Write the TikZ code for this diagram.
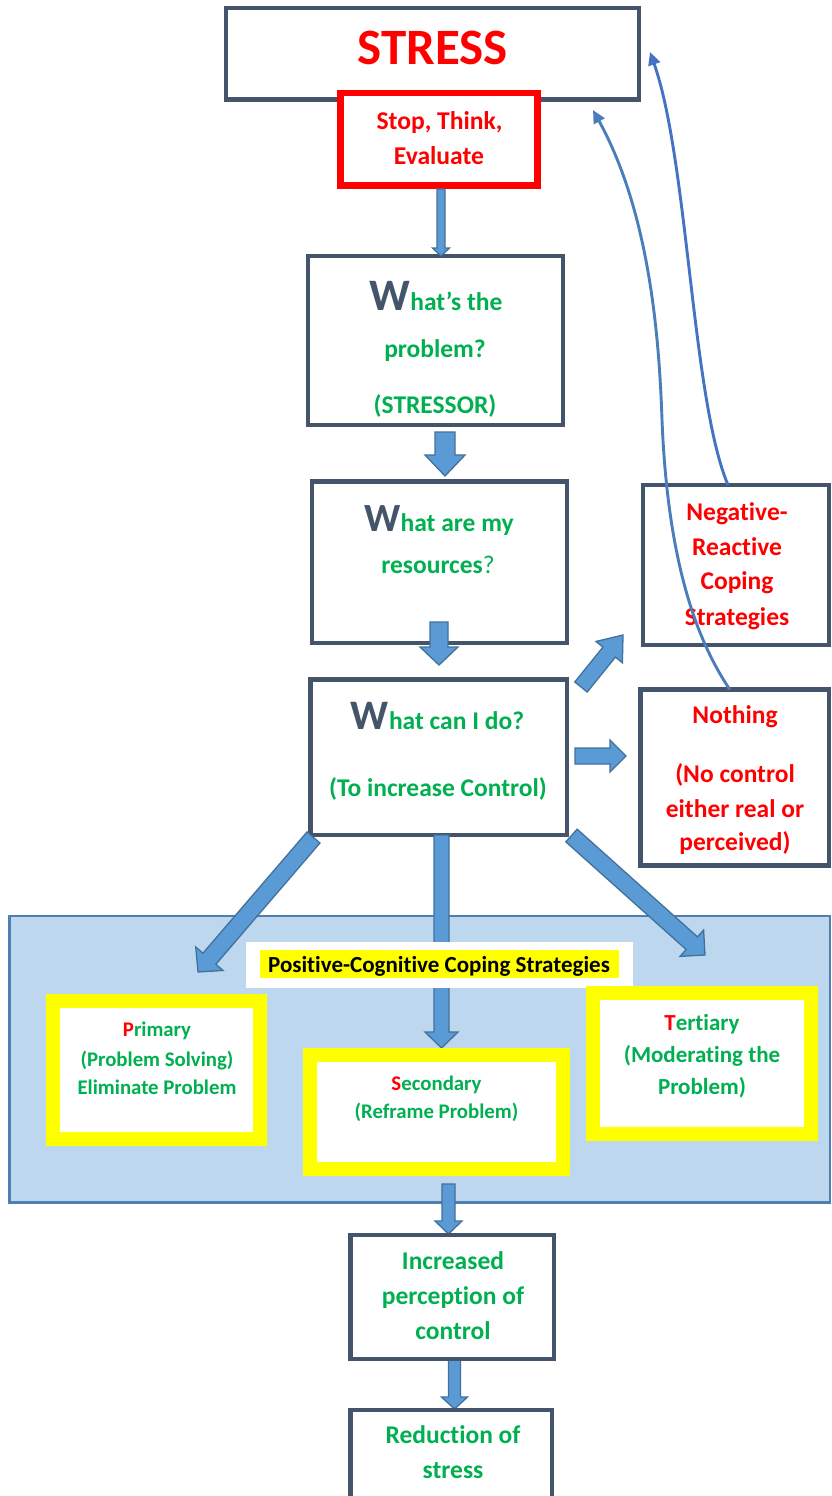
\documentclass[tikz,border=0pt]{standalone}
\usepackage{fontspec}
\setmainfont{Carlito}[Ligatures=NoCommon]
\usetikzlibrary{calc,arrows.meta}
\definecolor{boxline}{HTML}{44546A}
\definecolor{wgreen}{HTML}{00B050}
\definecolor{wred}{HTML}{FF0000}
\definecolor{arrfill}{HTML}{5B9BD5}
\definecolor{arrline}{HTML}{41719C}
\definecolor{bgblue}{HTML}{BDD7EE}
\definecolor{bgline}{HTML}{4F7FB0}
\definecolor{curveA}{HTML}{4A7EBB}
\definecolor{curveB}{HTML}{4472C4}
\definecolor{hlyellow}{HTML}{FFFF00}
\newcommand{\fs}[1]{\fontsize{#1}{#1}\selectfont}
\newcommand{\bigW}[1]{{\color{boxline}\fs{#1}W}}
% block arrow: start, tip, shaft half width, head half width, head length
\newcommand{\blockarr}[5]{%
  \coordinate (ba-c) at ($(#2)!#5!(#1)$);
  \draw[blockarrow] ($(#1)!#3!90:(#2)$) -- ($(ba-c)!#3!-90:(#1)$) -- ($(ba-c)!#4!-90:(#1)$) -- (#2)
    -- ($(ba-c)!#4!90:(#1)$) -- ($(ba-c)!#3!90:(#1)$) -- ($(#1)!#3!-90:(#2)$) -- cycle;}
\tikzset{
  box/.style={draw=boxline, line width=4.5pt, fill=white, inner sep=0pt, outer sep=0pt},
  redbox/.style={draw=wred, line width=6.5pt, fill=white, inner sep=0pt, outer sep=0pt},
  ybox/.style={draw=hlyellow, line width=14pt, fill=white, inner sep=0pt, outer sep=0pt},
  txt/.style={anchor=base, inner sep=0pt, outer sep=0pt},
  gtxt/.style={txt, text=wgreen},
  rtxt/.style={txt, text=wred},
  blockarrow/.style={draw=arrline, fill=arrfill, line width=1.3pt, line join=miter},
  curvearrow/.style={line width=2.9pt, -{Triangle[length=13pt,width=12pt]}},
}
\begin{document}
\begin{tikzpicture}[x=1pt,y=-1pt]
\clip (0,0) rectangle (831,1496);
\fill[white] (0,0) rectangle (831,1496);

% background panel
\node[draw=bgline, fill=bgblue, line width=2.2pt, minimum width=820.5pt, minimum height=286.5pt, inner sep=0pt] (bg) at (419.75,1059.25) {};

% top boxes
\node[box, minimum width=412.6pt, minimum height=91.5pt] (stress) at (432.5,53.75) {};
\node[rtxt, font=\bfseries\fs{51}] (tstress) at (432.5,65) {STRESS};
\node[redbox, minimum width=196.8pt, minimum height=92.3pt] (stop) at (439.1,139.2) {};
\node[rtxt, font=\bfseries\fs{25.6}] (tstop1) at (439.5,129.3) {Stop, Think,};
\node[rtxt, font=\bfseries\fs{25.6}] (tstop2) at (439,164.3) {Evaluate};

\node[box, minimum width=255pt, minimum height=169pt] (prob) at (435.5,340.5) {};
\node[gtxt, font=\bfseries\fs{25.5}] (tprob1) at (436,310) {\bigW{45}hat’s the};
\node[gtxt, font=\bfseries\fs{25.5}] (tprob2) at (435,357) {problem?};
\node[gtxt, font=\bfseries\fs{25.5}] (tprob3) at (435,413) {(STRESSOR)};

\node[box, minimum width=255pt, minimum height=161.5pt] (res) at (439.5,562.25) {};
\node[gtxt, font=\bfseries\fs{25.5}] (tres1) at (439,531) {\bigW{40}hat are my};
\node[gtxt, font=\bfseries\fs{25.5}] (tres2) at (438,573) {resources{\mdseries?}};

\node[box, minimum width=256.5pt, minimum height=155.5pt] (cando) at (438.75,757.25) {};
\node[gtxt, font=\bfseries\fs{25.5}] (tcan1) at (437.5,729) {\bigW{42}hat can I do?};
\node[gtxt, font=\bfseries\fs{25.5}] (tcan2) at (438,796) {(To increase Control)};

\node[box, minimum width=186pt, minimum height=160pt] (neg) at (736,565) {};
\node[rtxt, font=\bfseries\fs{25.5}] (tneg1) at (737,520) {Negative-};
\node[rtxt, font=\bfseries\fs{25.5}] (tneg2) at (737,555) {Reactive};
\node[rtxt, font=\bfseries\fs{25.5}] (tneg3) at (737,589) {Coping};
\node[rtxt, font=\bfseries\fs{25.5}] (tneg4) at (737,625) {Strategies};

\node[box, minimum width=188.5pt, minimum height=176pt] (noth) at (734.75,777.5) {};
\node[rtxt, font=\bfseries\fs{25.5}] (tnoth1) at (735,723) {Nothing};
\node[rtxt, font=\bfseries\fs{25.5}] (tnoth2) at (735,782) {(No control};
\node[rtxt, font=\bfseries\fs{25.5}] (tnoth3) at (735,817) {either real or};
\node[rtxt, font=\bfseries\fs{25.5}] (tnoth4) at (735,850) {perceived)};

% block arrows
\coordinate (a0s) at (441,189);   \coordinate (a0e) at (441,256);
\coordinate (a1s) at (445,432);   \coordinate (a1e) at (445,476);
\coordinate (a2s) at (439,622);   \coordinate (a2e) at (439,665);
\coordinate (a3s) at (581,687);   \coordinate (a3e) at (623,635);
\coordinate (a4s) at (575,756);   \coordinate (a4e) at (626,756);
\coordinate (a5s) at (313.5,837.5); \coordinate (a5e) at (198,972);
\coordinate (a6s) at (441.5,835); \coordinate (a6e) at (441.5,1048);
\coordinate (a7s) at (571.5,835.5); \coordinate (a7e) at (705,955);
\coordinate (a8s) at (448.5,1184); \coordinate (a8e) at (448.5,1234);
\coordinate (a9s) at (454.5,1360); \coordinate (a9e) at (454.5,1409);
\blockarr{a0s}{a0e}{4pt}{8.5pt}{8pt}
\blockarr{a1s}{a1e}{10pt}{20pt}{21pt}
\blockarr{a2s}{a2e}{9pt}{19pt}{18pt}
\blockarr{a3s}{a3e}{8pt}{17pt}{22pt}
\blockarr{a4s}{a4e}{8pt}{16pt}{16pt}
\blockarr{a5s}{a5e}{8.5pt}{18pt}{17.5pt}
\blockarr{a6s}{a6e}{7.5pt}{16.5pt}{16pt}
\blockarr{a7s}{a7e}{8.5pt}{17.7pt}{17.7pt}
\blockarr{a8s}{a8e}{6.5pt}{13.5pt}{13pt}
\blockarr{a9s}{a9e}{6pt}{13pt}{12pt}

% positive label
\node[fill=white, minimum width=387pt, minimum height=46pt, inner sep=0pt] (poslab) at (439.5,965) {};
\node[fill=hlyellow, minimum width=359pt, minimum height=28pt, inner sep=0pt] (poshl) at (439.5,964) {};
\node[txt, font=\bfseries\fs{23}, text=black] (tpos) at (439,972) {Positive-Cognitive Coping Strategies};

% yellow boxes
\node[ybox, minimum width=207.5pt, minimum height=138pt] (prim) at (156.25,1070) {};
\node[gtxt, font=\bfseries\fs{20.8}] (tprim1) at (157,1036) {\textcolor{wred}{P}rimary};
\node[gtxt, font=\bfseries\fs{20.8}] (tprim2) at (157,1066) {(Problem Solving)};
\node[gtxt, font=\bfseries\fs{20.8}] (tprim3) at (157,1094) {Eliminate Problem};

\node[ybox, minimum width=252.5pt, minimum height=114pt] (sec) at (436.25,1112) {};
\node[gtxt, font=\bfseries\fs{20.8}] (tsec1) at (436.5,1090) {\textcolor{wred}{S}econdary};
\node[gtxt, font=\bfseries\fs{20.8}] (tsec2) at (436.5,1118) {(Reframe Problem)};

\node[ybox, minimum width=218pt, minimum height=141.5pt] (tert) at (702,1063.25) {};
\node[gtxt, font=\bfseries\fs{23}] (ttert1) at (702,1030) {\textcolor{wred}{T}ertiary};
\node[gtxt, font=\bfseries\fs{23}] (ttert2) at (702,1062) {(Moderating the};
\node[gtxt, font=\bfseries\fs{23}] (ttert3) at (702,1094) {Problem)};

% bottom boxes
\node[box, minimum width=203.5pt, minimum height=124pt] (incr) at (452.25,1297) {};
\node[gtxt, font=\bfseries\fs{25.5}] (tincr1) at (453,1269) {Increased};
\node[gtxt, font=\bfseries\fs{25.5}] (tincr2) at (453,1304) {perception of};
\node[gtxt, font=\bfseries\fs{25.5}] (tincr3) at (453,1339) {control};

\node[box, minimum width=201.5pt, minimum height=100pt] (redu) at (451.25,1460) {};
\node[gtxt, font=\bfseries\fs{25.5}] (tredu1) at (453,1443) {Reduction of};
\node[gtxt, font=\bfseries\fs{25.5}] (tredu2) at (453,1478) {stress};

% feedback curves
\coordinate (c1end) at (593,110);
\coordinate (c2end) at (650,52);
\draw[curvearrow, curveA] ([xshift=-5pt]noth.north) .. controls (700,645) and (668,570) .. (662,420)
  .. controls (659,330) and (648,210) .. (c1end);
\draw[curvearrow, curveB] ([xshift=-8pt]neg.north) .. controls (692,400) and (688,160) .. (c2end);
\end{tikzpicture}
\end{document}
